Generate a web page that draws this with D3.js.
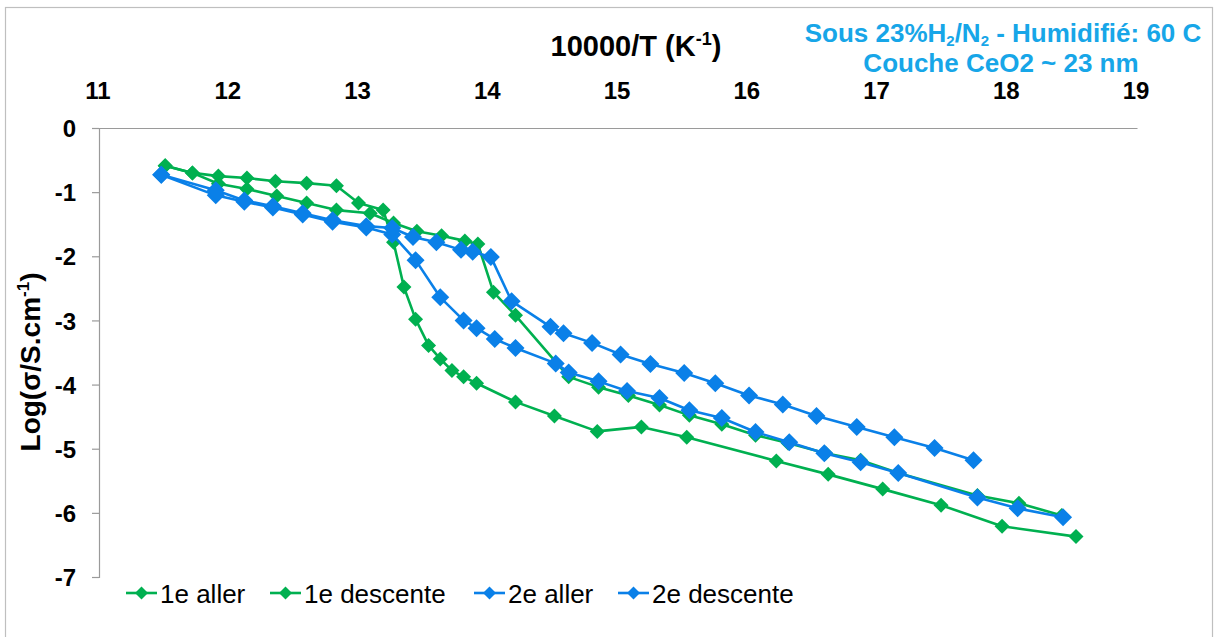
<!DOCTYPE html>
<html>
<head>
<meta charset="utf-8">
<script src="https://cdn.jsdelivr.net/npm/d3@7"></script>
<style>
  html, body { margin: 0; padding: 0; background: #fff; }
  svg { display: block; font-family: "Liberation Sans", Arial, sans-serif; }
</style>
</head>
<body>
<svg id="chart" width="1216" height="637"></svg>
<script>
// Conductivity vs inverse temperature, two thermal cycles (x = 10000/T, y = log sigma)
const seriesNames = ["1e aller", "1e descente", "2e aller", "2e descente"];
const seriesColors = ["#00B050", "#00B050", "#0A80E8", "#0A80E8"];

const aller1X = [11.51, 11.72, 11.92, 12.14, 12.36, 12.60, 12.83, 13.00, 13.19, 13.27, 13.35, 13.44, 13.54, 13.63, 13.72, 13.81, 13.91, 14.21, 14.51, 14.84, 15.18, 15.53, 16.22, 16.62, 17.04, 17.49, 17.96, 18.53];
const aller1Y = [-0.59, -0.70, -0.75, -0.78, -0.83, -0.86, -0.90, -1.17, -1.28, -1.78, -2.48, -2.98, -3.39, -3.60, -3.78, -3.88, -3.98, -4.27, -4.49, -4.73, -4.66, -4.82, -5.19, -5.40, -5.63, -5.88, -6.21, -6.37];

const descente1X = [11.51, 11.72, 11.92, 12.14, 12.37, 12.60, 12.83, 13.09, 13.27, 13.45, 13.64, 13.82, 13.92, 14.04, 14.21, 14.62, 14.85, 15.08, 15.32, 15.55, 15.80, 16.06, 16.31, 16.60, 16.87, 17.16, 17.77, 18.09, 18.42];
const descente1Y = [-0.59, -0.70, -0.87, -0.95, -1.06, -1.17, -1.28, -1.33, -1.48, -1.61, -1.68, -1.76, -1.81, -2.56, -2.92, -3.88, -4.04, -4.17, -4.32, -4.48, -4.62, -4.79, -4.91, -5.07, -5.18, -5.38, -5.73, -5.85, -6.04];

const aller2X = [11.48, 11.90, 12.12, 12.34, 12.57, 12.80, 13.06, 13.26, 13.44, 13.63, 13.81, 13.91, 14.05, 14.21, 14.52, 14.62, 14.85, 15.07, 15.32, 15.55, 15.80, 16.06, 16.32, 16.59, 16.87, 17.16, 17.77, 18.08, 18.43];
const aller2Y = [-0.73, -1.05, -1.15, -1.24, -1.35, -1.46, -1.55, -1.66, -2.06, -2.64, -3.00, -3.12, -3.29, -3.43, -3.67, -3.81, -3.95, -4.10, -4.21, -4.40, -4.52, -4.74, -4.90, -5.07, -5.21, -5.38, -5.76, -5.93, -6.07];

const descente2X = [11.48, 11.90, 12.12, 12.34, 12.57, 12.80, 13.06, 13.26, 13.42, 13.60, 13.79, 13.88, 14.02, 14.18, 14.48, 14.58, 14.80, 15.02, 15.25, 15.51, 15.75, 16.01, 16.27, 16.53, 16.84, 17.13, 17.44, 17.74];
const descente2Y = [-0.73, -0.97, -1.13, -1.22, -1.33, -1.44, -1.53, -1.56, -1.70, -1.78, -1.90, -1.93, -2.01, -2.70, -3.10, -3.20, -3.35, -3.53, -3.68, -3.82, -3.98, -4.17, -4.31, -4.49, -4.66, -4.82, -4.99, -5.18];

const xTicks = [11, 12, 13, 14, 15, 16, 17, 18, 19];
const yTicks = [0, -1, -2, -3, -4, -5, -6, -7];

const seriesX = [aller1X, descente1X, aller2X, descente2X];
const seriesY = [aller1Y, descente1Y, aller2Y, descente2Y];
const markerSize = [7.5, 7.5, 9, 9];

const svg = d3.select("#chart");

// outer chart frame
svg.append("rect")
  .attr("x", 5.5).attr("y", 7.5).attr("width", 1207).attr("height", 640)
  .attr("fill", "none").attr("stroke", "#BFBFBF").attr("stroke-width", 1.2);

const x = d3.scaleLinear().domain([11, 19]).range([99, 1137]);
const y = d3.scaleLinear().domain([0, -7]).range([128, 577]);

// axes: x labels sit above the plot, crossing at y = 0
const xAxis = d3.axisTop(x).tickValues(xTicks).tickSize(0).tickPadding(0).tickFormat(d3.format("d"));
const gx = svg.append("g").attr("transform", `translate(0,${y(0)})`).call(xAxis);
gx.select(".domain").attr("stroke", "#9A9A9A").attr("stroke-width", 1.2);
gx.selectAll(".tick text").remove();

const yAxis = d3.axisLeft(y).tickValues(yTicks).tickSize(7).tickFormat(d3.format("d"));
const gy = svg.append("g").attr("transform", `translate(${x(11)},0)`).call(yAxis);
gy.select(".domain").attr("stroke", "#9A9A9A").attr("stroke-width", 1.2);
gy.selectAll(".tick line").attr("stroke", "#9A9A9A").attr("stroke-width", 1.2);
gy.selectAll(".tick text")
  .attr("x", -23)
  .attr("dy", "0.36em")
  .attr("font-size", 24).attr("font-weight", "bold").attr("fill", "#000")
  .attr("font-family", "Liberation Sans, Arial, sans-serif")
  .text(d => d === 0 ? "0" : "-" + Math.abs(d));

// x tick labels drawn above the axis line
svg.append("g").selectAll("text").data(xTicks).join("text")
  .attr("x", d => x(d) - 1).attr("y", 99)
  .attr("text-anchor", "middle")
  .attr("font-size", 24).attr("font-weight", "bold").attr("fill", "#000")
  .text(d => d);

// x axis title
const xt = svg.append("text")
  .attr("x", 636).attr("y", 56).attr("text-anchor", "middle")
  .attr("font-size", 29).attr("font-weight", "bold").attr("fill", "#000");
xt.append("tspan").text("10000/T (K");
xt.append("tspan").attr("font-size", 18).attr("dy", -11).text("-1");
xt.append("tspan").attr("dy", 11).text(")");

// y axis title
const yt = svg.append("text")
  .attr("transform", "translate(40,362) rotate(-90)")
  .attr("text-anchor", "middle")
  .attr("font-size", 28).attr("font-weight", "bold").attr("fill", "#000");
yt.append("tspan").text("Log(σ/S.cm");
yt.append("tspan").attr("font-size", 17).attr("dy", -11).text("-1");
yt.append("tspan").attr("dy", 11).text(")");

// conditions note, two centred lines
const noteColor = "#17A6E8";
const note = svg.append("text")
  .attr("text-anchor", "middle")
  .attr("font-size", 26).attr("font-weight", "bold").attr("fill", noteColor);
note.append("tspan").attr("x", 1003).attr("y", 42).text("Sous 23%H");
note.append("tspan").attr("font-size", 15).attr("dy", 4).text("2");
note.append("tspan").attr("dy", -4).text("/N");
note.append("tspan").attr("font-size", 15).attr("dy", 4).text("2");
note.append("tspan").attr("dy", -4).text(" - Humidifié: 60 C");
note.append("tspan").attr("x", 1001).attr("y", 72).text("Couche CeO2 ~ 23 nm");

// diamond marker path
const diamond = r => `M0,${-r}L${r},0L0,${r}L${-r},0Z`;

const line = d3.line().x(d => x(d[0])).y(d => y(d[1]));

seriesNames.forEach((name, i) => {
  const pts = seriesX[i].map((v, k) => [v, seriesY[i][k]]);
  const g = svg.append("g").attr("class", "series");
  g.append("path").datum(pts)
    .attr("d", line)
    .attr("fill", "none")
    .attr("stroke", seriesColors[i])
    .attr("stroke-width", 2.6)
    .attr("stroke-linejoin", "round");
  g.selectAll("path.mk").data(pts).join("path")
    .attr("class", "mk")
    .attr("transform", d => `translate(${x(d[0])},${y(d[1])})`)
    .attr("d", diamond(markerSize[i]))
    .attr("fill", seriesColors[i]);
});

// legend
const legendX = [126, 270, 474, 618];
const legendY = 593;
const lg = svg.append("g");
seriesNames.forEach((name, i) => {
  const g = lg.append("g").attr("transform", `translate(${legendX[i]},${legendY})`);
  g.append("line").attr("x1", 0).attr("x2", 31).attr("y1", 0).attr("y2", 0)
    .attr("stroke", seriesColors[i]).attr("stroke-width", 2.6);
  g.append("path").attr("transform", "translate(15.5,0)").attr("d", diamond(6.5))
    .attr("fill", seriesColors[i]);
  g.append("text").attr("x", 34).attr("y", 10)
    .attr("font-size", 26).attr("fill", "#000").text(name);
});
</script>
</body>
</html>
